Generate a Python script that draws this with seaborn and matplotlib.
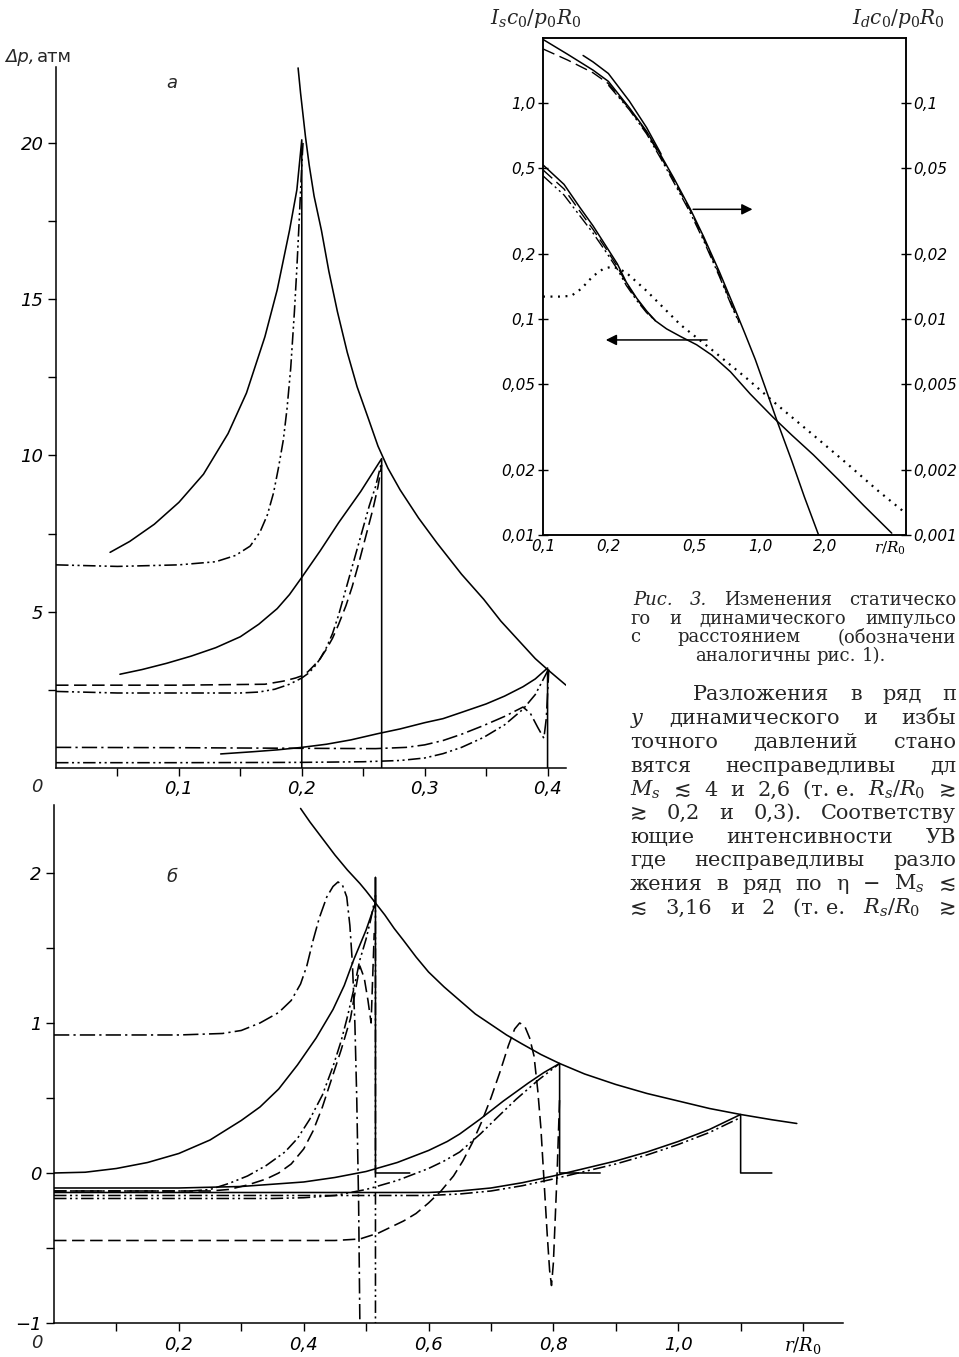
import matplotlib
matplotlib.use("Agg")
import matplotlib.pyplot as plt
import seaborn as sns
from matplotlib.ticker import FixedLocator, NullLocator

# ---------------- data: panel a (Δp, atm vs r/R0) ----------------
env_a_x = [0.197, 0.199, 0.201, 0.203, 0.206, 0.21, 0.216, 0.222, 0.229, 0.237, 0.245, 0.254,
           0.262, 0.27, 0.28, 0.295, 0.31, 0.33, 0.348, 0.362, 0.376, 0.39, 0.4, 0.415]
env_a_y = [22.4, 21.6, 20.9, 20.2, 19.3, 18.3, 17.2, 15.9, 14.6, 13.3, 12.2, 11.2,
           10.3, 9.6, 8.9, 8.0, 7.2, 6.2, 5.4, 4.7, 4.1, 3.5, 3.15, 2.65]

sol_a1_x = [0.044, 0.06, 0.08, 0.1, 0.12, 0.14, 0.155, 0.17, 0.18, 0.19, 0.196, 0.2, 0.2]
sol_a1_y = [6.9, 7.25, 7.8, 8.5, 9.4, 10.7, 12.0, 13.8, 15.3, 17.2, 18.5, 20.1, 0.0]
ddt_a1_x = [0, 0.05, 0.1, 0.13, 0.146, 0.158, 0.166, 0.172, 0.177, 0.181, 0.185, 0.188,
            0.191, 0.194, 0.196, 0.198, 0.2, 0.201]
ddt_a1_y = [6.5, 6.45, 6.5, 6.6, 6.8, 7.1, 7.55, 8.1, 8.8, 9.6, 10.5, 11.5,
            12.8, 14.6, 16.0, 17.6, 19.3, 20.0]

sol_a2_x = [0.052, 0.07, 0.09, 0.11, 0.13, 0.15, 0.165, 0.18, 0.19, 0.2, 0.215, 0.23, 0.248, 0.265, 0.265]
sol_a2_y = [3.0, 3.15, 3.35, 3.58, 3.85, 4.2, 4.6, 5.1, 5.55, 6.1, 6.95, 7.85, 8.85, 9.9, 0.0]
dsh_a2_x = [0, 0.1, 0.17, 0.185, 0.195, 0.2, 0.205, 0.21, 0.215, 0.22, 0.225, 0.23, 0.236,
            0.241, 0.246, 0.25, 0.254, 0.258, 0.262, 0.265]
dsh_a2_y = [2.65, 2.65, 2.68, 2.78, 2.88, 2.95, 3.08, 3.28, 3.5, 3.8, 4.15, 4.6, 5.2,
            5.8, 6.5, 7.1, 7.7, 8.3, 9.0, 9.7]
ddt_a2_x = [0, 0.05, 0.15, 0.165, 0.178, 0.19, 0.2, 0.205, 0.21, 0.215, 0.22, 0.225, 0.23,
            0.235, 0.24, 0.245, 0.25, 0.255, 0.26, 0.265]
ddt_a2_y = [2.45, 2.4, 2.4, 2.43, 2.52, 2.68, 2.88, 3.02, 3.22, 3.5, 3.85, 4.3, 4.9,
            5.6, 6.3, 7.0, 7.7, 8.4, 9.0, 9.8]

sol_a3_x = [0.134, 0.16, 0.18, 0.2, 0.22, 0.24, 0.262, 0.28, 0.3, 0.315, 0.33, 0.35, 0.365,
            0.38, 0.39, 0.4, 0.4]
sol_a3_y = [0.45, 0.52, 0.58, 0.66, 0.76, 0.9, 1.1, 1.25, 1.45, 1.58, 1.78, 2.05, 2.3,
            2.6, 2.85, 3.2, 0.0]
dd1_a3_x = [0, 0.1, 0.2, 0.26, 0.285, 0.3, 0.315, 0.33, 0.348, 0.365, 0.38, 0.386, 0.392,
            0.397, 0.399, 0.401]
dd1_a3_y = [0.66, 0.65, 0.63, 0.62, 0.66, 0.74, 0.88, 1.08, 1.36, 1.65, 1.95, 1.75, 1.3,
            0.95, 1.6, 3.15]
ddt_a3_x = [0, 0.1, 0.2, 0.25, 0.28, 0.3, 0.315, 0.33, 0.348, 0.365, 0.38, 0.39, 0.4]
ddt_a3_y = [0.17, 0.17, 0.18, 0.2, 0.24, 0.32, 0.46, 0.66, 0.98, 1.38, 1.88, 2.35, 3.1]

# ---------------- data: panel б ----------------
env_b_x = [0.395, 0.41, 0.43, 0.45, 0.47, 0.49, 0.5, 0.515, 0.53, 0.545, 0.56, 0.58, 0.6,
           0.625, 0.65, 0.675, 0.7, 0.725, 0.75, 0.78, 0.81, 0.85, 0.9, 0.95, 1.0, 1.05,
           1.1, 1.15, 1.19]
env_b_y = [2.43, 2.34, 2.23, 2.12, 2.02, 1.93, 1.88, 1.8, 1.72, 1.63, 1.55, 1.44, 1.34,
           1.24, 1.15, 1.06, 0.99, 0.92, 0.86, 0.79, 0.73, 0.66, 0.59, 0.53, 0.48, 0.43,
           0.39, 0.355, 0.33]

sol_b1_x = [0, 0.05, 0.1, 0.15, 0.2, 0.25, 0.3, 0.33, 0.36, 0.39, 0.42, 0.447, 0.465, 0.48,
            0.5, 0.515, 0.515, 0.515, 0.57]
sol_b1_y = [0, 0.005, 0.03, 0.07, 0.13, 0.22, 0.35, 0.44, 0.56, 0.72, 0.9, 1.09, 1.25, 1.42,
            1.62, 1.8, 1.97, 0.0, 0.0]
hmp_b1_x = [0, 0.1, 0.2, 0.27, 0.3, 0.33, 0.36, 0.38, 0.395, 0.405, 0.415, 0.425, 0.437,
            0.447, 0.455, 0.462, 0.469, 0.474, 0.478, 0.482, 0.485, 0.488, 0.49]
hmp_b1_y = [0.92, 0.92, 0.92, 0.93, 0.95, 1.0, 1.07, 1.15, 1.26, 1.38, 1.55, 1.7, 1.84,
            1.91, 1.94, 1.92, 1.84, 1.65, 1.4, 1.0, 0.5, -0.2, -1.0]
ddt_b1_x = [0, 0.22, 0.25, 0.28, 0.31, 0.34, 0.37, 0.39, 0.41, 0.43, 0.447, 0.46, 0.47,
            0.48, 0.49, 0.5, 0.508, 0.515, 0.515]
ddt_b1_y = [-0.12, -0.12, -0.11, -0.07, -0.02, 0.05, 0.14, 0.23, 0.36, 0.52, 0.71, 0.88,
            1.04, 1.22, 1.42, 1.56, 1.7, 1.85, -1.0]
dsh_b1_x = [0, 0.25, 0.28, 0.31, 0.34, 0.36, 0.38, 0.4, 0.415, 0.43, 0.445, 0.46, 0.475,
            0.48, 0.49, 0.497, 0.503, 0.508, 0.513]
dsh_b1_y = [-0.12, -0.12, -0.11, -0.08, -0.04, 0.0, 0.06, 0.16, 0.28, 0.44, 0.63, 0.82,
            1.03, 1.15, 1.38, 1.3, 1.15, 1.0, 1.6]

sol_b2_x = [0, 0.2, 0.3, 0.4, 0.45, 0.5, 0.55, 0.6, 0.63, 0.65, 0.683, 0.72, 0.76, 0.785,
            0.81, 0.81, 0.875]
sol_b2_y = [-0.1, -0.1, -0.09, -0.06, -0.03, 0.01, 0.07, 0.15, 0.21, 0.26, 0.36, 0.48, 0.6,
            0.67, 0.73, 0.0, 0.0]
ddt_b2_x = [0, 0.35, 0.4, 0.45, 0.5, 0.55, 0.6, 0.625, 0.65, 0.683, 0.71, 0.74, 0.776, 0.81]
ddt_b2_y = [-0.17, -0.17, -0.165, -0.15, -0.11, -0.05, 0.03, 0.08, 0.14, 0.26, 0.37, 0.49,
            0.62, 0.73]
dsh_b2_x = [0, 0.3, 0.45, 0.49, 0.52, 0.56, 0.58, 0.6, 0.62, 0.64, 0.655, 0.67, 0.685, 0.7,
            0.715, 0.728, 0.738, 0.746, 0.754, 0.762, 0.769, 0.775, 0.78, 0.785, 0.79, 0.794,
            0.797, 0.8, 0.803, 0.806, 0.81]
dsh_b2_y = [-0.45, -0.45, -0.45, -0.44, -0.4, -0.32, -0.27, -0.2, -0.12, -0.02, 0.08, 0.2,
            0.34, 0.5, 0.68, 0.85, 0.96, 1.0, 0.98, 0.9, 0.78, 0.55, 0.3, -0.05, -0.4, -0.65,
            -0.75, -0.6, -0.3, 0.0, 0.5]

sol_b3_x = [0, 0.6, 0.65, 0.7, 0.75, 0.8, 0.85, 0.9, 0.95, 1.0, 1.05, 1.1, 1.1, 1.15]
sol_b3_y = [-0.13, -0.13, -0.12, -0.1, -0.065, -0.02, 0.03, 0.08, 0.14, 0.21, 0.29, 0.39,
            0.0, 0.0]
ddt_b3_x = [0, 0.6, 0.65, 0.7, 0.75, 0.8, 0.85, 0.9, 0.95, 1.0, 1.05, 1.1]
ddt_b3_y = [-0.15, -0.15, -0.14, -0.12, -0.085, -0.04, 0.01, 0.06, 0.12, 0.19, 0.27, 0.37]

# ---------------- data: inset (impulses, log-log) ----------------
is_x = [0.1, 0.125, 0.148, 0.17, 0.196, 0.22, 0.242, 0.27, 0.3, 0.33, 0.371, 0.43, 0.51,
        0.6, 0.73, 0.9, 1.15, 1.4, 1.76, 2.3, 3.0, 4.04]
is_sol = [0.517, 0.42, 0.328, 0.27, 0.216, 0.18, 0.148, 0.125, 0.109, 0.098, 0.09, 0.083,
          0.076, 0.068, 0.057, 0.045, 0.035, 0.029, 0.0235, 0.018, 0.0137, 0.0102]
is_x_short = [0.1, 0.125, 0.148, 0.17, 0.196, 0.22, 0.242, 0.27, 0.3, 0.33]
is_dsh = [0.49, 0.4, 0.315, 0.26, 0.21, 0.175, 0.146, 0.124, 0.108, 0.098]
is_ddt = [0.46, 0.375, 0.3, 0.25, 0.203, 0.17, 0.143, 0.122, 0.107, 0.098]
is_dot_x = [0.1, 0.12, 0.135, 0.15, 0.17, 0.19, 0.21, 0.24, 0.3, 0.43, 0.6, 0.87, 1.2,
            1.76, 2.5, 3.5, 4.6]
is_dot_y = [0.127, 0.127, 0.128, 0.138, 0.158, 0.171, 0.175, 0.165, 0.135, 0.094, 0.072,
            0.053, 0.040, 0.029, 0.0215, 0.016, 0.0128]

id_x = [0.1, 0.13, 0.17, 0.2, 0.25, 0.3, 0.35, 0.4, 0.477, 0.55, 0.65, 0.75, 0.85, 0.95,
        1.05, 1.2, 1.4, 1.6, 1.86]
id_sol = [0.197, 0.168, 0.142, 0.126, 0.095, 0.074, 0.057, 0.045, 0.0323, 0.024, 0.0165,
          0.0117, 0.0086, 0.0065, 0.0049, 0.00335, 0.0022, 0.0015, 0.001]
id2_x = [0.153, 0.17, 0.2, 0.25, 0.3, 0.35]
id2_sol = [0.166, 0.155, 0.137, 0.102, 0.077, 0.058]
id_dsh_x = [0.1, 0.13, 0.17, 0.2, 0.25, 0.3, 0.35, 0.4, 0.477, 0.55, 0.65, 0.75, 0.8]
id_dsh = [0.178, 0.158, 0.138, 0.123, 0.094, 0.073, 0.056, 0.044, 0.0318, 0.0235, 0.016,
          0.0113, 0.0097]
id_ddt_x = [0.2, 0.25, 0.3, 0.35, 0.4, 0.477, 0.55, 0.65, 0.75, 0.8]
id_ddt = [0.121, 0.093, 0.072, 0.055, 0.043, 0.031, 0.023, 0.0157, 0.0111, 0.0096]

# ---------------- tick labels ----------------
a_yticks = [5, 10, 15, 20]
a_xticks = [0.1, 0.2, 0.3, 0.4]
a_xlabels = ["0,1", "0,2", "0,3", "0,4"]
b_yticks = [-1, 0, 1, 2]
b_ylabels = ["−1", "0", "1", "2"]
b_xticks = [0.2, 0.4, 0.6, 0.8, 1.0, 1.2]
b_xlabels = ["0,2", "0,4", "0,6", "0,8", "1,0", "$r/R_0$"]
i_xticks = [0.1, 0.2, 0.5, 1.0, 2.0, 3.95]
i_xlabels = ["0,1", "0,2", "0,5", "1,0", "2,0", "$r/R_0$"]
i_lticks = [0.01, 0.02, 0.05, 0.1, 0.2, 0.5, 1.0]
i_llabels = ["0,01", "0,02", "0,05", "0,1", "0,2", "0,5", "1,0"]
i_rticks = [0.001, 0.002, 0.005, 0.01, 0.02, 0.05, 0.1]
i_rlabels = ["0,001", "0,002", "0,005", "0,01", "0,02", "0,05", "0,1"]

# ---------------- style ----------------
sns.set_theme(style="ticks")
plt.rcParams["font.family"] = ["DejaVu Sans"]
plt.rcParams["mathtext.fontset"] = "dejavuserif"
plt.rcParams["lines.scale_dashes"] = False
plt.rcParams["axes.linewidth"] = 1.1
plt.rcParams["axes.edgecolor"] = "black"

SOLID = "-"
DASH = (0, (9, 4))
DDOT1 = (0, (11, 3, 1.6, 3))
DDOT2 = (0, (9, 2.5, 1.5, 2.5, 1.5, 2.5))
DOT = (0, (1.4, 4))
LW = 1.15

W, H = 959, 1357
fig = plt.figure(figsize=(W / 100, H / 100), dpi=100)
fig.patch.set_facecolor("white")


def line(ax, x, y, ls, lw=LW):
    sns.lineplot(x=x, y=y, ax=ax, color="black", linewidth=lw, linestyle=ls,
                 sort=False, estimator=None)


# ---------------- panel a ----------------
ax_a = fig.add_axes([56 / W, 1 - 768 / H, (566 - 56) / W, (768 - 67) / H])
ax_a.set_xlim(0, 0.415)
ax_a.set_ylim(0, 22.43)
for x, y, ls in [
    (env_a_x, env_a_y, SOLID), (sol_a1_x, sol_a1_y, SOLID), (ddt_a1_x, ddt_a1_y, DDOT2),
    (sol_a2_x, sol_a2_y, SOLID), (dsh_a2_x, dsh_a2_y, DASH), (ddt_a2_x, ddt_a2_y, DDOT2),
    (sol_a3_x, sol_a3_y, SOLID), (dd1_a3_x, dd1_a3_y, DDOT1), (ddt_a3_x, ddt_a3_y, DDOT2),
]:
    line(ax_a, x, y, ls)

# ---------------- panel б ----------------
ax_b = fig.add_axes([54 / W, 1 - 1323 / H, (843 - 54) / W, (1323 - 805) / H])
ax_b.set_xlim(0, 1.264)
ax_b.set_ylim(-1, 2.453)
for x, y, ls in [
    (env_b_x, env_b_y, SOLID), (sol_b1_x, sol_b1_y, SOLID), (hmp_b1_x, hmp_b1_y, DDOT1),
    (ddt_b1_x, ddt_b1_y, DDOT2), (dsh_b1_x, dsh_b1_y, DASH),
    (sol_b2_x, sol_b2_y, SOLID), (ddt_b2_x, ddt_b2_y, DDOT2), (dsh_b2_x, dsh_b2_y, DASH),
    (sol_b3_x, sol_b3_y, SOLID), (ddt_b3_x, ddt_b3_y, DDOT2),
]:
    line(ax_b, x, y, ls)

TICKFONT = dict(fontsize=13, style="italic")
for ax in (ax_a, ax_b):
    sns.despine(ax=ax)
    ax.tick_params(axis="both", which="both", direction="out", length=6, width=1,
                   colors="black", pad=3)
    ax.set_xlabel("")
    ax.set_ylabel("")

ax_a.yaxis.set_major_locator(FixedLocator(a_yticks))
ax_a.set_yticklabels([str(v) for v in a_yticks], **TICKFONT)
ax_a.yaxis.set_minor_locator(FixedLocator([2.5, 7.5, 12.5, 17.5]))
ax_a.xaxis.set_major_locator(FixedLocator(a_xticks))
ax_a.set_xticklabels(a_xlabels, **TICKFONT)
ax_a.xaxis.set_minor_locator(FixedLocator([0.05, 0.15, 0.25, 0.35]))

ax_b.yaxis.set_major_locator(FixedLocator(b_yticks))
ax_b.set_yticklabels(b_ylabels, **TICKFONT)
ax_b.yaxis.set_minor_locator(FixedLocator([-0.5, 0.5, 1.5]))
ax_b.xaxis.set_major_locator(FixedLocator(b_xticks))
ax_b.set_xticklabels(b_xlabels, **TICKFONT)
ax_b.xaxis.set_minor_locator(FixedLocator([0.1, 0.3, 0.5, 0.7, 0.9, 1.1]))

fig.text(37 / W, 1 - 787 / H, "0", ha="center", va="center", **TICKFONT)
fig.text(37 / W, 1 - 1343 / H, "0", ha="center", va="center", **TICKFONT)
fig.text(172 / W, 1 - 83 / H, "а", ha="center", va="center", fontsize=13, style="italic")
fig.text(172 / W, 1 - 877 / H, "б", ha="center", va="center", fontsize=13, style="italic")
fig.text(5 / W, 1 - 57 / H, "Δp,", ha="left", va="center", fontsize=13, style="italic")
fig.text(37 / W, 1 - 57 / H, "атм", ha="left", va="center", fontsize=13)

# ---------------- inset ----------------
ax_i = fig.add_axes([543 / W, 1 - 535 / H, 363 / W, 497 / H])
ax_i.set_xscale("log")
ax_i.set_yscale("log")
ax_i.set_xlim(0.1, 4.7)
ax_i.set_ylim(0.01, 2.0)
line(ax_i, is_x, is_sol, SOLID, 1.1)
line(ax_i, is_x_short, is_dsh, DASH, 1.0)
line(ax_i, is_x_short, is_ddt, DDOT2, 1.0)
line(ax_i, is_dot_x, is_dot_y, DOT, 1.6)
ax_r = ax_i.twinx()
ax_r.set_yscale("log")
ax_r.set_ylim(0.001, 0.2)
line(ax_r, id_x, id_sol, SOLID, 1.1)
line(ax_r, id2_x, id2_sol, SOLID, 1.1)
line(ax_r, id_dsh_x, id_dsh, DASH, 1.0)
line(ax_r, id_ddt_x, id_ddt, DDOT2, 1.0)

IFONT = dict(fontsize=11, style="italic")
for ax in (ax_i, ax_r):
    for s in ax.spines.values():
        s.set_visible(True)
        s.set_linewidth(1.1)
        s.set_color("black")
    ax.set_xlabel("")
    ax.set_ylabel("")
ax_i.xaxis.set_major_locator(FixedLocator(i_xticks))
ax_i.xaxis.set_minor_locator(NullLocator())
ax_i.set_xticklabels(i_xlabels, **IFONT)
ax_i.tick_params(axis="x", length=0, pad=3, colors="black")
ax_i.yaxis.set_major_locator(FixedLocator(i_lticks))
ax_i.yaxis.set_minor_locator(NullLocator())
ax_i.set_yticklabels(i_llabels, **IFONT)
ax_i.tick_params(axis="y", direction="inout", length=7, width=1, pad=2, colors="black")
ax_r.yaxis.set_major_locator(FixedLocator(i_rticks))
ax_r.yaxis.set_minor_locator(NullLocator())
ax_r.set_yticklabels(i_rlabels, **IFONT)
ax_r.tick_params(axis="y", direction="inout", length=7, width=1, pad=2, colors="black")

ax_i.annotate("", xy=(0.95, 0.322), xytext=(0.477, 0.322),
              arrowprops=dict(arrowstyle="-|>", color="black", lw=1.1, mutation_scale=16))
ax_i.annotate("", xy=(0.189, 0.08), xytext=(0.587, 0.08),
              arrowprops=dict(arrowstyle="-|>", color="black", lw=1.1, mutation_scale=16))

fig.text(490 / W, 1 - 18 / H, r"$I_s c_0/p_0R_0$", ha="left", va="center", fontsize=14.5)
fig.text(852 / W, 1 - 18 / H, r"$I_d c_0/p_0R_0$", ha="left", va="center", fontsize=14.5)

# ---------------- caption and body text (justified lines) ----------------
SERIF = ["DejaVu Serif", "DejaVu Sans"]
renderer = fig.canvas.get_renderer()


def text_line(words, x0, ybase, size, x1=None):
    objs = []
    for w in words:
        s, st = w if isinstance(w, tuple) else (w, "normal")
        objs.append(fig.text(0, 1 - ybase / H, s, fontsize=size, family=SERIF, style=st,
                             ha="left", va="baseline"))
    widths = [t.get_window_extent(renderer).width for t in objs]
    nat = size * 100 / 72 * 0.32
    if x1 is not None:
        total = sum(widths) + nat * (len(objs) - 1)
        if total > x1 - x0:
            k = (x1 - x0) / total
            for t in objs:
                t.set_fontsize(size * k)
            widths = [t.get_window_extent(renderer).width for t in objs]
            nat *= k
    gap = nat
    if x1 is not None and len(objs) > 1:
        gap = max(nat, (x1 - x0 - sum(widths)) / (len(objs) - 1))
    x = x0
    for t, wd in zip(objs, widths):
        t.set_x(x / W)
        x += wd + gap


CAP = 13
BODY = 15
XR = 956
text_line([("Рис.", "italic"), ("3.", "italic"), "Изменения", "статическо"], 633, 605, CAP, XR)
text_line(["го", "и", "динамического", "импульсо"], 630, 624, CAP, XR)
text_line(["с", "расстоянием", "(обозначени"], 630, 642, CAP, XR)
text_line(["аналогичны", "рис.", "1)."], 695, 661, CAP)

text_line(["Разложения", "в", "ряд", "п"], 693, 700, BODY, XR)
text_line([r"$y$", "динамического", "и", "избы"], 630, 724, BODY, XR)
text_line(["точного", "давлений", "стано"], 630, 748, BODY, XR)
text_line(["вятся", "несправедливы", "дл"], 630, 772, BODY, XR)
text_line([r"$M_s$", "≲", "4", "и", "2,6", "(т. е.", r"$R_s/R_0$", "≳"], 630, 796, BODY, XR)
text_line(["≳", "0,2", "и", "0,3).", "Соответству"], 630, 819, BODY, XR)
text_line(["ющие", "интенсивности", "УВ"], 630, 843, BODY, XR)
text_line(["где", "несправедливы", "разло"], 630, 866, BODY, XR)
text_line(["жения", "в", "ряд", "по", "η", "−", r"$\mathrm{M}_s$", "≲"], 630, 890, BODY, XR)
text_line(["≲", "3,16", "и", "2", "(т. е.", r"$R_s/R_0$", "≳"], 630, 914, BODY, XR)

fig.savefig("out.png", dpi=100, facecolor="white")
